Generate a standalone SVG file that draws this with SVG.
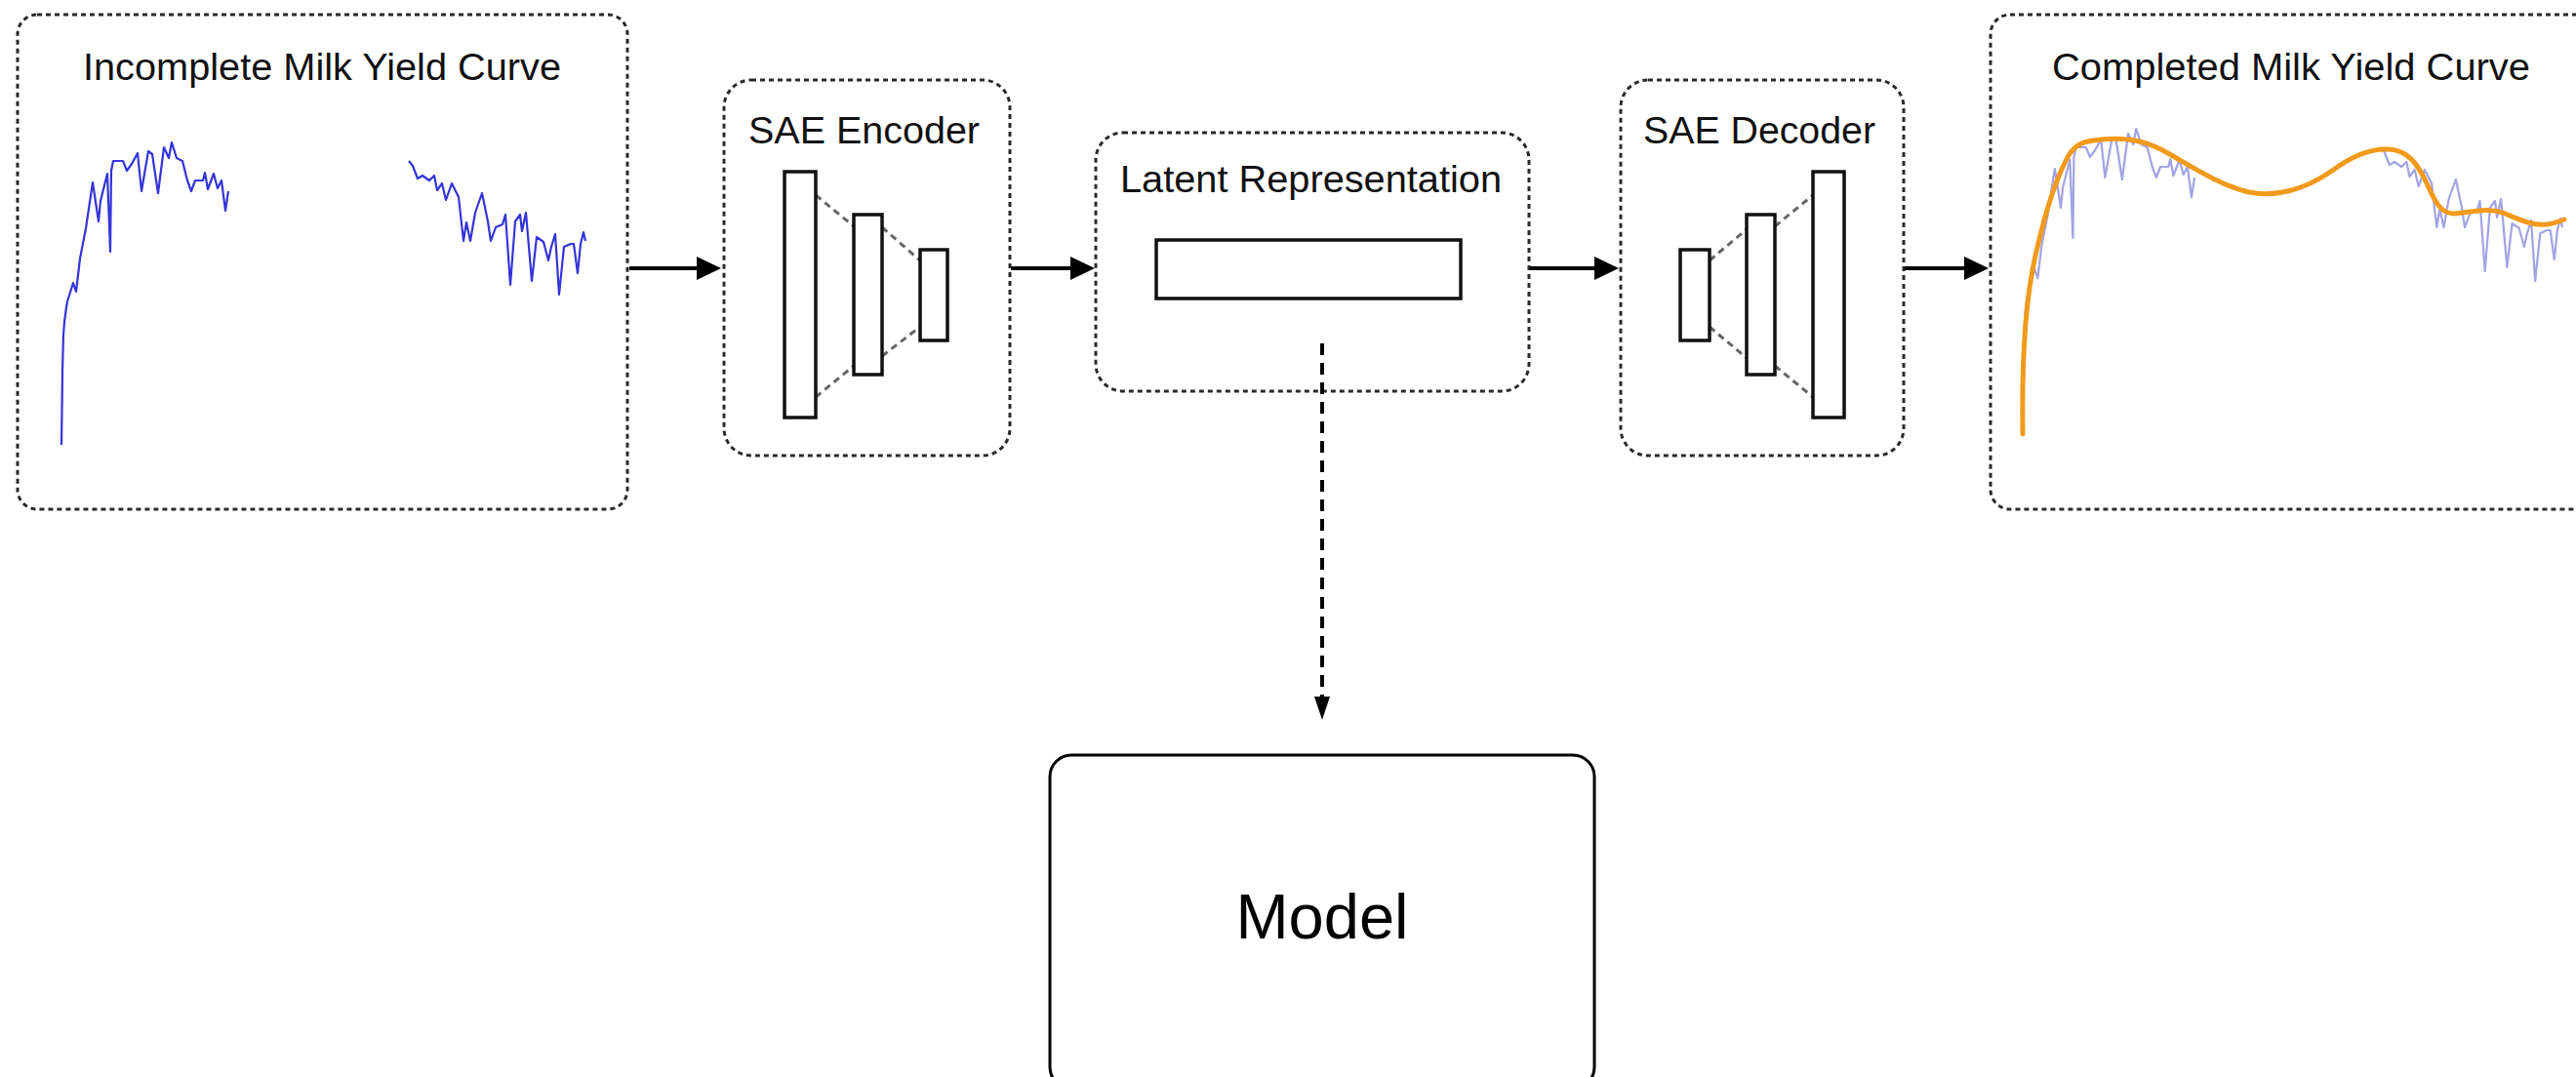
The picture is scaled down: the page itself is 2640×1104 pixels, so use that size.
<svg xmlns="http://www.w3.org/2000/svg" xmlns:xlink="http://www.w3.org/1999/xlink" width="2640" height="1104" viewBox="0 0 2640 1104">
  <style>
    .frame { fill: #ffffff; stroke: #2a2a2a; stroke-width: 3; stroke-dasharray: 5 4; }
    .title { font-family: "Liberation Sans", Arial, Helvetica, sans-serif; font-size: 38px; fill: #111111; }
    .layer { fill: #ffffff; stroke: #111111; stroke-width: 3.5; }
    .link { fill: none; stroke: #666666; stroke-width: 3; stroke-dasharray: 7 5; }
    .flow { fill: none; stroke: #000000; stroke-width: 4; }
    .feed { fill: none; stroke: #000000; stroke-width: 4; stroke-dasharray: 12 8; }
    .raw { fill: none; stroke: #3434d8; stroke-width: 2.2; stroke-linejoin: round; }
    .raw-faint { fill: none; stroke: #a4a4e4; stroke-width: 2.2; stroke-linejoin: round; }
    .fit { fill: none; stroke: #f29a1c; stroke-width: 5; stroke-linecap: round; }
  </style>
  <defs>
    <marker id="head" viewBox="0 0 25 24" refX="0" refY="12" markerWidth="25" markerHeight="24" markerUnits="userSpaceOnUse" orient="auto">
      <path d="M0,0 L25,12 L0,24 Z" fill="#000000"/>
    </marker>
    <marker id="head-small" viewBox="0 0 24 16" refX="0" refY="8" markerWidth="24" markerHeight="16" markerUnits="userSpaceOnUse" orient="auto">
      <path d="M0,0 L24,8 L0,16 Z" fill="#000000"/>
    </marker>
    <!-- observed daily yield, with the mid-lactation gap -->
    <path id="yield-data" d="M63,456 L63.5,420 L64,380 L65,343 L66,330 L68,315 L69,309 L75,290 L78,299 L82,265 L88,234 L95,187 L101,227 L103,206 L110,178 L113,258 L114,175 L116,165 L126,165 L130,175 L135,168 L141,157 L145,196 L152,155 L156,158 L162,198 L168,151 L173,162 L176,146 L181,162 L187,165 L192,185 L196,196 L200,185 L208,185 L210,177 L213,194 L219,178 L223,193 L227,185 L231,216 L234,196
      M419,165 L423,170 L428,183 L433,180 L440,185 L445,180 L448,195 L453,188 L457,205 L463,188 L470,202 L475,247 L478,228 L482,247 L487,218 L494,198 L500,227 L503,247 L508,233 L515,230 L518,220 L523,292 L528,227 L533,220 L535,237 L539,218 L545,288 L550,243 L557,248 L562,267 L565,253 L569,240 L573,302 L578,253 L585,250 L588,250 L592,280 L595,250 L598,238 L600,247"/>
  </defs>

  <rect width="2640" height="1104" fill="#ffffff"/>

  <!-- input curve -->
  <g id="incomplete-curve">
    <rect class="frame" x="18" y="15" width="625" height="507" rx="20"/>
    <text class="title" x="85" y="82" textLength="490" lengthAdjust="spacingAndGlyphs">Incomplete Milk Yield Curve</text>
    <use xlink:href="#yield-data" class="raw"/>
  </g>

  <!-- encoder -->
  <g id="sae-encoder">
    <rect class="frame" x="742" y="82" width="293" height="385" rx="28"/>
    <text class="title" x="767" y="147" textLength="237" lengthAdjust="spacingAndGlyphs">SAE Encoder</text>
    <line class="link" x1="836" y1="200" x2="875" y2="232"/>
    <line class="link" x1="836" y1="407" x2="875" y2="375"/>
    <line class="link" x1="904" y1="233" x2="943" y2="267"/>
    <line class="link" x1="904" y1="365" x2="943" y2="335"/>
    <rect class="layer" x="804" y="176" width="32" height="252"/>
    <rect class="layer" x="875" y="220" width="29" height="164"/>
    <rect class="layer" x="943" y="256" width="28" height="93"/>
  </g>

  <!-- latent code -->
  <g id="latent-representation">
    <rect class="frame" x="1123" y="136" width="444" height="265" rx="28"/>
    <text class="title" x="1148" y="197" textLength="391" lengthAdjust="spacingAndGlyphs">Latent Representation</text>
    <rect class="layer" x="1185" y="246" width="312" height="60" stroke-width="4"/>
  </g>

  <!-- decoder -->
  <g id="sae-decoder">
    <rect class="frame" x="1661" y="82" width="290" height="385" rx="28"/>
    <text class="title" x="1684" y="147" textLength="238" lengthAdjust="spacingAndGlyphs">SAE Decoder</text>
    <line class="link" x1="1752" y1="267" x2="1790" y2="235"/>
    <line class="link" x1="1752" y1="335" x2="1790" y2="367"/>
    <line class="link" x1="1819" y1="232" x2="1858" y2="200"/>
    <line class="link" x1="1819" y1="375" x2="1858" y2="407"/>
    <rect class="layer" x="1722" y="256" width="30" height="93"/>
    <rect class="layer" x="1790" y="220" width="29" height="164"/>
    <rect class="layer" x="1858" y="176" width="32" height="252"/>
  </g>

  <!-- reconstructed curve -->
  <g id="completed-curve">
    <rect class="frame" x="2040" y="15" width="640" height="507" rx="20"/>
    <text class="title" x="2103" y="82" textLength="490" lengthAdjust="spacingAndGlyphs">Completed Milk Yield Curve</text>
    <use xlink:href="#yield-data" class="raw-faint" transform="translate(2008,-14) scale(1.03,1)"/>
    <path class="fit" d="M2073,445 C2072,380 2075,310 2086,262 C2093,232 2102,195 2117,165 C2124,150 2132,146 2145,144 C2170,140 2195,141 2220,156 C2245,170 2275,190 2305,197 C2330,202 2360,196 2390,175 C2410,160 2430,152 2448,153 C2468,154 2478,168 2488,190 C2496,208 2502,219 2515,219 C2535,217 2550,213 2565,218 C2580,224 2595,232 2610,230 C2618,229 2623,227 2628,225"/>
  </g>

  <!-- downstream model -->
  <g id="model">
    <rect x="1076" y="774" width="558" height="342" rx="22" fill="#ffffff" stroke="#000000" stroke-width="3"/>
    <text x="1355" y="962" text-anchor="middle" font-family="'Liberation Sans', Arial, Helvetica, sans-serif" font-size="65" fill="#000000">Model</text>
  </g>

  <g id="connectors">
    <line class="flow" x1="645" y1="275" x2="714" y2="275" marker-end="url(#head)"/>
    <line class="flow" x1="1036" y1="275" x2="1097" y2="275" marker-end="url(#head)"/>
    <line class="flow" x1="1568" y1="275" x2="1634" y2="275" marker-end="url(#head)"/>
    <line class="flow" x1="1952" y1="275" x2="2013" y2="275" marker-end="url(#head)"/>
    <line class="feed" x1="1355" y1="352" x2="1355" y2="714" marker-end="url(#head-small)"/>
  </g>
</svg>
